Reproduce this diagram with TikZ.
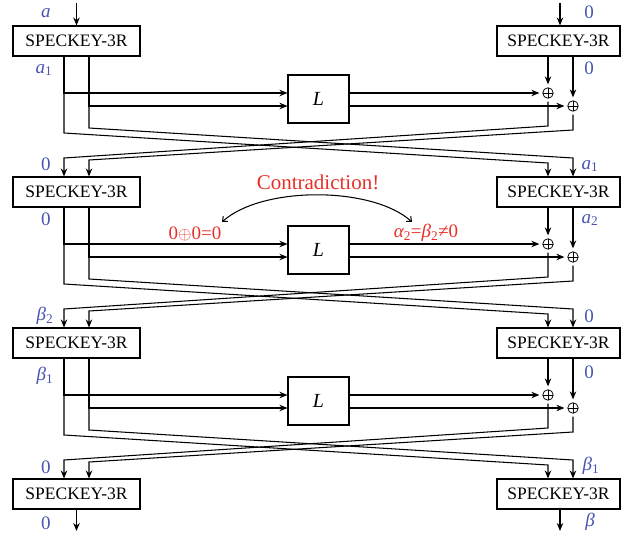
\documentclass[tikz,border=0pt]{standalone}
\usepackage{fontspec}
\setmainfont{Liberation Serif}
\usetikzlibrary{arrows.meta}
\definecolor{lblue}{RGB}{72,84,176}
\definecolor{lred}{RGB}{232,48,40}
\begin{document}
\begin{tikzpicture}[x=1pt,y=-1pt,line width=1.05pt,
  spk/.style={draw, minimum width=127pt, minimum height=30pt, inner sep=0pt, font=\fontsize{17.5}{20}\selectfont},
  lbox/.style={draw, minimum width=61pt, minimum height=48pt, inner sep=0pt, font=\fontsize{20}{24}\selectfont\itshape},
  xo/.style={circle, draw, line width=0.75pt, minimum size=10.5pt, inner sep=0pt,
    path picture={\draw[line width=0.75pt] (path picture bounding box.north) -- (path picture bounding box.south)
      (path picture bounding box.west) -- (path picture bounding box.east);}},
  lab/.style={text=lblue, font=\fontsize{19}{20}\selectfont, inner sep=0pt},
  rtxt/.style={text=lred, inner sep=0pt},
  arr/.style={-{Stealth[length=8pt,width=6.5pt]}},
  arrx/.style={arr, shorten >=3pt},
  barb/.style={{Straight Barb[length=4pt,width=7pt]}-{Straight Barb[length=4pt,width=7pt]}}
]
\useasboundingbox (0,0) rectangle (638,536);

% boxes
\foreach \i/\y in {1/26,2/177,3/328,4/479} {
  \node[spk] (A\i) at (76.5,\y+15) {SPECKEY-3R};
  \node[spk, minimum width=123pt] (B\i) at (558.5,\y+15) {SPECKEY-3R};
}

% rounds
\foreach \i/\j/\y in {1/2/26,2/3/177,3/4/328} {
  \node[lbox] (M\i) at (318.5,\y+73) {L};
  \node[xo] (X\i) at (548,\y+67) {};
  \node[xo] (Y\i) at (573,\y+80) {};
  \draw[arr] ([xshift=-12.5pt]A\i.south) |- ([yshift=6pt]M\i.west);
  \draw[arr] ([xshift=12.5pt]A\i.south) |- ([yshift=-7pt]M\i.west);
  \draw[arrx] ([yshift=6pt]M\i.east) -- (X\i);
  \draw[arrx] ([yshift=-7pt]M\i.east) -- (Y\i);
  \draw[arrx] (B\i.south -| X\i) -- (X\i);
  \draw[arrx] (B\i.south -| Y\i) -- (Y\i);
  % crossing
  \draw[arr] ([xshift=12.5pt]A\i.south) -- (89,\y+102) -- (573,\y+132) -- (Y\i |- B\j.north);
  \draw[arr] ([xshift=-12.5pt]A\i.south) -- (64,\y+107) -- (548,\y+137) -- (X\i |- B\j.north);
  \draw[arr, shorten <=3pt] (X\i) -- (548,\y+100) -- (64,\y+132) -- ([xshift=-12.5pt]A\j.north);
  \draw[arr, shorten <=3pt] (Y\i) -- (573,\y+104) -- (89,\y+134) -- ([xshift=12.5pt]A\j.north);
}

% outer inputs/outputs
\coordinate (inA) at (76.5,3);
\coordinate (inB) at (560,3);
\coordinate (outA) at (76.5,531);
\coordinate (outB) at (560,531);
\draw[arr] (inA) -- (A1.north);
\draw[arr] (inB) -- (inB |- B1.north);
\draw[arr] (A4.south) -- (outA);
\draw[arr] (outB |- B4.south) -- (outB);

% labels left
\node[lab] (la1) at (46,13) {\itshape a};
\node[lab] (lb1) at (44,70) {{\itshape a}\textsubscript{1}};
\node[lab] (la2) at (46,164) {0};
\node[lab] (lb2) at (46,219) {0};
\node[lab] (la3) at (45,316) {{\itshape β}\textsubscript{2}};
\node[lab] (lb3) at (45,376) {{\itshape β}\textsubscript{1}};
\node[lab] (la4) at (46,467) {0};
\node[lab] (lb4) at (46,523) {0};
% labels right
\node[lab] (ra1) at (589,12) {0};
\node[lab] (rb1) at (589,68) {0};
\node[lab] (ra2) at (590,166) {{\itshape a}\textsubscript{1}};
\node[lab] (rb2) at (590,220) {{\itshape a}\textsubscript{2}};
\node[lab] (ra3) at (589,316) {0};
\node[lab] (rb3) at (589,372) {0};
\node[lab] (ra4) at (591,466) {{\itshape β}\textsubscript{1}};
\node[lab] (rb4) at (590,522) {\itshape β};

% contradiction
\node[rtxt, font=\fontsize{21}{24}\selectfont] (ctr) at (318,182) {Contradiction!};
\node[rtxt, font=\fontsize{19}{22}\selectfont] (t1) at (195,234) {0$\oplus$0=0};
\node[rtxt, font=\fontsize{19}{22}\selectfont] (t2) at (426,233) {{\itshape α}\textsubscript{2}={\itshape β}\textsubscript{2}≠0};
\coordinate (c1) at (222,222);
\coordinate (c2) at (412,222);
\draw[barb] (c1) .. controls (262,186) and (372,186) .. (c2);
\end{tikzpicture}
\end{document}
